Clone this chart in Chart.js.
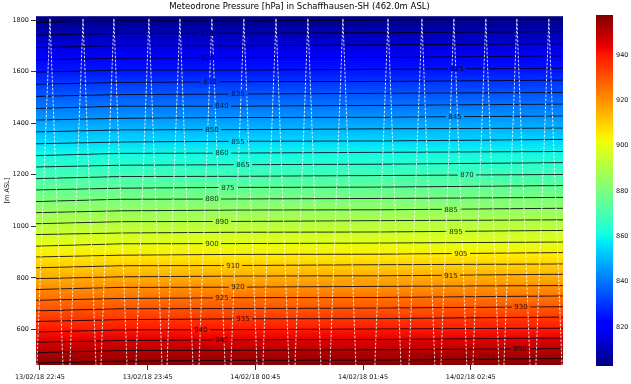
<!DOCTYPE html>
<html>
<head>
<meta charset="utf-8">
<script src="https://cdn.jsdelivr.net/npm/chart.js@4.4.1/dist/chart.umd.min.js"></script>
<style>
	html, body { margin: 0; padding: 0; background: #fff; }
	#wrap { position: relative; width: 631px; height: 384px; }
	#main { position: absolute; left: 0; top: 0; }
	#cbar { position: absolute; left: 585px; top: 0; }
</style>
</head>
<body>
<div id="wrap">
	<canvas id="main" width="631" height="384"></canvas>
	<canvas id="cbar" width="46" height="384"></canvas>
</div>
<script>
// =====================================
// DATA (time = minutes after 13/02/18 22:45)
// =====================================

const xTicks = [0, 60, 120, 180, 240];
const xTickLabels = ['13/02/18 22:45', '13/02/18 23:45', '14/02/18 00:45', '14/02/18 01:45', '14/02/18 02:45'];
const yTicks = [600, 800, 1000, 1200, 1400, 1600, 1800];
const cbTicks = [820, 840, 860, 880, 900, 920, 940];

const timeMin = -2.2;
const timeMax = 291.4;
const stationAlt = 462;
const topAlt = 1815;
const pMin = 802.8;
const pMax = 957.7;

// isobars: height [m ASL] at each of isoTimes
const isoTimes = [-2.2, 45, 110, 190, 291.4];
const isoLevels = [955, 950, 945, 940, 935, 930, 925, 920, 915, 910, 905, 900, 895, 890, 885, 880,
	875, 870, 865, 860, 855, 850, 845, 840, 835, 830, 825, 820, 815, 810, 805];
const isoHeights = [
	[470, 477, 480, 481, 487],
	[510, 518, 519, 521, 526],
	[550, 557, 560, 561, 567],
	[590, 598, 599, 602, 605],
	[631, 638, 641, 642, 648],
	[672, 680, 681, 683, 688],
	[713, 720, 723, 724, 730],
	[755, 763, 764, 767, 770],
	[797, 804, 807, 808, 814],
	[839, 847, 848, 851, 854],
	[881, 888, 891, 892, 898],
	[923, 932, 933, 935, 939],
	[968, 974, 977, 978, 984],
	[1010, 1018, 1019, 1022, 1025],
	[1053, 1060, 1063, 1064, 1070],
	[1096, 1105, 1106, 1108, 1112],
	[1141, 1148, 1151, 1152, 1158],
	[1185, 1193, 1194, 1197, 1201],
	[1230, 1237, 1239, 1241, 1247],
	[1274, 1283, 1284, 1287, 1290],
	[1320, 1327, 1330, 1331, 1337],
	[1366, 1374, 1375, 1378, 1381],
	[1412, 1419, 1422, 1423, 1428],
	[1457, 1466, 1466, 1469, 1474],
	[1504, 1511, 1513, 1516, 1519],
	[1551, 1558, 1561, 1562, 1567],
	[1598, 1606, 1606, 1609, 1613],
	[1646, 1652, 1654, 1655, 1661],
	[1693, 1701, 1700, 1704, 1708],
	[1742, 1748, 1749, 1751, 1755],
	[1790, 1797, 1796, 1800, 1803],
];

// contour labels: level and the time where it sits
const labelLevels = [810, 820, 825, 830, 835, 840, 845, 850, 855, 860, 865, 870, 875, 880, 885, 890,
	895, 900, 905, 910, 915, 920, 925, 930, 935, 940, 945, 950];
const labelTimes = [93.0, 93.6, 232.3, 94.7, 110.3, 101.4, 231.2, 95.8, 110.3, 101.4, 113.1, 237.9,
	104.7, 95.8, 229.0, 101.4, 231.8, 95.8, 234.5, 107.5, 229.0, 110.3, 101.4, 268.0, 113.1, 89.7, 101.4, 267.4];

// drone flights: take-off, top, landing (minutes)
const flightUp = [-1.7, 16.7, 34.0, 53.5, 70.8, 88.6, 106.4, 124.2, 142.1, 161.6, 186.6, 205.6, 223.4, 241.2, 258.5, 276.3];
const flightPeak = [5.6, 24.0, 41.2, 60.7, 78.0, 95.8, 113.6, 131.5, 149.3, 168.8, 193.9, 212.8, 230.6, 248.4, 265.7, 283.5];
const flightDown = [12.8, 31.2, 48.5, 68.0, 85.2, 103.1, 120.9, 138.7, 156.5, 176.0, 201.1, 220.0, 237.8, 255.7, 273.0, 290.8];
const flightCeiling = 1806;

// =====================================
// COLOR UTILS (matplotlib jet)
// =====================================

const jetR = [[0, 0], [0.35, 0], [0.66, 1], [0.89, 1], [1, 0.5]];
const jetG = [[0, 0], [0.125, 0], [0.375, 1], [0.64, 1], [0.91, 0], [1, 0]];
const jetB = [[0, 0.5], [0.11, 1], [0.34, 1], [0.65, 0], [1, 0]];
const jetStops = [0, 0.11, 0.125, 0.34, 0.35, 0.375, 0.64, 0.65, 0.66, 0.89, 0.91, 1];

const seg = (s, v) => {
	for (let i = 1; i < s.length; i++) {
		if (v <= s[i][0]) {
			const a = s[i - 1], b = s[i];
			return a[1] + ((b[1] - a[1]) * (v - a[0])) / (b[0] - a[0]);
		}
	}
	return s[s.length - 1][1];
};
const jet = (v) => {
	v = Math.min(1, Math.max(0, v));
	return `rgb(${Math.round(255 * seg(jetR, v))},${Math.round(255 * seg(jetG, v))},${Math.round(255 * seg(jetB, v))})`;
};
const pColor = (p) => jet((p - pMin) / (pMax - pMin));
const mean = (a) => a.reduce((s, v) => s + v, 0) / a.length;

const heightAt = (row, t) => {
	for (let j = 1; j < isoTimes.length; j++) {
		if (t <= isoTimes[j]) {
			const f = (t - isoTimes[j - 1]) / (isoTimes[j] - isoTimes[j - 1]);
			return row[j - 1] + (row[j] - row[j - 1]) * f;
		}
	}
	return row[row.length - 1];
};

Chart.defaults.font.family = 'DejaVu Sans';
Chart.defaults.color = '#000';

// =====================================
// MAIN CONTOUR CHART
// =====================================

const bandColor = (ctx) => {
	const chart = ctx.chart;
	const i = ctx.datasetIndex;
	if (!chart.chartArea) return pColor(isoLevels[i]);
	const ys = chart.scales.y;
	const yLo = ys.getPixelForValue(i === 0 ? stationAlt : mean(isoHeights[i - 1]));
	const yHi = ys.getPixelForValue(mean(isoHeights[i]));
	const g = chart.ctx.createLinearGradient(0, yLo, 0, yHi);
	g.addColorStop(0, pColor(i === 0 ? pMax : isoLevels[i - 1]));
	g.addColorStop(1, pColor(isoLevels[i]));
	return g;
};

const isoDatasets = isoLevels.map((lev, i) => ({
	label: `${lev} hPa`,
	data: isoTimes.map((t, j) => ({ x: t, y: isoHeights[i][j] })),
	borderColor: 'rgba(0,0,0,0.85)',
	borderWidth: 0.9,
	backgroundColor: bandColor,
	fill: i === 0 ? 'start' : '-1',
	pointRadius: 0,
	tension: 0,
}));

const flightPath = [];
flightPeak.forEach((tp, k) => {
	flightPath.push(
		{ x: flightUp[k], y: stationAlt },
		{ x: tp, y: flightCeiling },
		{ x: flightDown[k], y: stationAlt },
		{ x: flightDown[k], y: null }
	);
});

const contourPlugin = {
	id: 'contourExtras',
	beforeDraw(chart) {
		const { ctx, chartArea: a } = chart;
		ctx.save();
		ctx.fillStyle = pColor(pMin + 0.8);
		ctx.fillRect(a.left, a.top, a.right - a.left, a.bottom - a.top);
		ctx.restore();
	},
	afterDatasetsDraw(chart) {
		const { ctx, chartArea: a } = chart;
		const xs = chart.scales.x, ys = chart.scales.y;
		ctx.save();
		ctx.font = '7px "DejaVu Sans"';
		ctx.textAlign = 'center';
		ctx.textBaseline = 'middle';
		labelLevels.forEach((lev, k) => {
			const i = isoLevels.indexOf(lev);
			const t = labelTimes[k];
			const px = xs.getPixelForValue(t);
			const py = ys.getPixelForValue(heightAt(isoHeights[i], t));
			const txt = String(lev);
			const w = ctx.measureText(txt).width;
			ctx.fillStyle = pColor(lev);
			ctx.fillRect(px - w / 2 - 2.5, py - 2.5, w + 5, 5);
			ctx.fillStyle = 'rgba(0,0,0,0.82)';
			ctx.fillText(txt, px, py + 0.5);
		});
		ctx.font = '7.6px "DejaVu Sans"';
		ctx.fillStyle = 'rgba(70,20,0,0.45)';
		ctx.fillText('© meteomatics 2018', a.right - 108, a.bottom - 8);
		ctx.restore();
	},
};

new Chart(document.getElementById('main'), {
	type: 'line',
	data: {
		datasets: [
			...isoDatasets,
			{
				label: 'Meteodrone',
				data: flightPath,
				borderColor: 'rgba(255,255,255,0.9)',
				borderWidth: 0.9,
				borderDash: [2.5, 1.5],
				pointRadius: 0,
				fill: false,
				spanGaps: false,
				order: -1,
			},
		],
	},
	options: {
		responsive: false,
		animation: false,
		events: [],
		layout: { padding: { right: 68 } },
		plugins: {
			legend: { display: false },
			tooltip: { enabled: false },
			filler: { drawTime: 'beforeDatasetsDraw' },
			title: {
				display: true,
				text: 'Meteodrone Pressure [hPa] in Schaffhausen-SH (462.0m ASL)',
				fullSize: false,
				font: { size: 8.5, weight: 'normal' },
				color: '#000',
				padding: { top: 2, bottom: 4 },
			},
		},
		scales: {
			x: {
				type: 'linear',
				min: timeMin,
				max: timeMax,
				afterBuildTicks: (s) => { s.ticks = xTicks.map((v) => ({ value: v })); },
				afterFit: (s) => { s.height = 19; },
				grid: { drawOnChartArea: false, drawTicks: true, tickLength: 5, color: '#000', lineWidth: 0.8 },
				border: { display: false },
				ticks: {
					autoSkip: false,
					maxRotation: 0,
					padding: 3,
					font: { size: 6.5 },
					color: '#111',
					callback: (v, i) => xTickLabels[i],
				},
			},
			y: {
				type: 'linear',
				min: stationAlt,
				max: topAlt,
				afterBuildTicks: (s) => { s.ticks = yTicks.map((v) => ({ value: v })); },
				afterFit: (s) => { s.width = 36; },
				grid: { drawOnChartArea: false, drawTicks: true, tickLength: 5, color: '#000', lineWidth: 0.8 },
				border: { display: false },
				title: { display: true, text: '[m ASL]', font: { size: 6.5 }, color: '#111', padding: { top: 3, bottom: 0 } },
				ticks: { padding: 2, font: { size: 6.5 }, color: '#111', callback: (v) => String(v) },
			},
		},
	},
	plugins: [contourPlugin],
});

// =====================================
// COLORBAR
// =====================================

new Chart(document.getElementById('cbar'), {
	type: 'bar',
	data: {
		labels: [''],
		datasets: [
			{
				data: [[pMin, pMax]],
				backgroundColor: (ctx) => {
					const a = ctx.chart.chartArea;
					if (!a) return pColor(880);
					const g = ctx.chart.ctx.createLinearGradient(0, a.bottom, 0, a.top);
					jetStops.forEach((v) => g.addColorStop(v, jet(v)));
					return g;
				},
				borderWidth: 0,
				borderSkipped: false,
				barPercentage: 1,
				categoryPercentage: 1,
			},
		],
	},
	options: {
		responsive: false,
		animation: false,
		events: [],
		layout: { padding: { left: 11, top: 15, bottom: 18, right: 0 } },
		plugins: { legend: { display: false }, tooltip: { enabled: false } },
		scales: {
			x: { display: false },
			y: {
				position: 'right',
				min: pMin,
				max: pMax,
				afterBuildTicks: (s) => { s.ticks = cbTicks.map((v) => ({ value: v })); },
				afterFit: (s) => { s.width = 18; },
				grid: { display: false, drawTicks: false },
				border: { display: false },
				ticks: { padding: 3, font: { size: 6.5 }, color: '#111', callback: (v) => String(v) },
			},
		},
	},
});
</script>
</body>
</html>
